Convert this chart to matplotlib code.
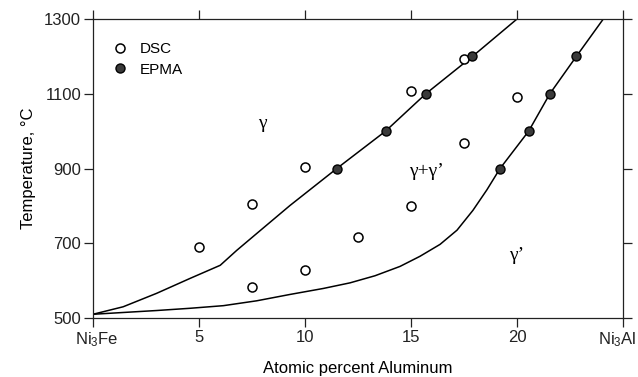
import numpy as np
import matplotlib.pyplot as plt
import matplotlib.transforms as mtransforms

plt.rcParams['font.family'] = ['Liberation Sans', 'DejaVu Sans']
plt.rcParams['mathtext.fontset'] = 'custom'
plt.rcParams['mathtext.rm'] = 'Liberation Sans'
plt.rcParams['mathtext.it'] = 'Liberation Sans:italic'

# DSC measurements (open circles)
dsc_al = [5, 7.5, 7.5, 10, 10, 12.5, 15, 15, 17.5, 17.5, 20]
dsc_t = [690, 805, 583, 903, 628, 716, 1108, 801, 1193, 967, 1092]

# EPMA measurements (filled circles), left and right boundaries
epma_al = [11.5, 13.8, 15.7, 17.9, 19.2, 20.55, 21.55, 22.8]
epma_t = [900, 1000, 1100, 1200, 900, 1000, 1100, 1200]

# phase boundaries
gamma_al = [0, 1.42, 3.0, 4.58, 6.0, 6.78, 7.72, 9.29, 11.5, 13.8, 15.7, 17.9, 20]
gamma_t = [510, 530, 566, 606, 641, 681, 726, 801, 900, 1000, 1100, 1200, 1300]

prime_al = [0, 3.0, 4.58, 6.15, 7.72, 9.29, 10.86, 12.12, 13.3, 14.48, 15.42, 16.37,
            17.17, 17.92, 18.58, 19.2, 20.55, 21.55, 22.8, 24.07]
prime_t = [510, 520, 526, 533, 546, 563, 579, 594, 613, 638, 665, 697,
           735, 788, 843, 900, 1000, 1100, 1200, 1300]

xticks = [0, 5, 10, 15, 20, 25]
xlabels = ['Ni$_3$Fe', '5', '10', '15', '20', 'Ni$_3$Al']
yticks = [500, 700, 900, 1100, 1300]

fig = plt.figure(figsize=(6.38, 3.77), dpi=100)
ax = fig.add_axes([0.1458, 0.1565, 0.8307, 0.7931])

ax.plot(gamma_al, gamma_t, color='black', lw=1.1)
ax.plot(prime_al, prime_t, color='black', lw=1.1)
ax.plot(dsc_al, dsc_t, 'o', ms=6.5, mfc='white', mec='black', mew=1.1, label='DSC')
ax.plot(epma_al, epma_t, 'o', ms=6.5, mfc='#3a3a3a', mec='black', mew=1.0, label='EPMA')

ax.text(7.97, 1020, 'γ', family='Liberation Serif', fontsize=14, ha='center', va='center')
ax.text(15.75, 893, 'γ+γ’', family='Liberation Serif', fontsize=14, ha='center', va='center')
ax.text(20, 668, 'γ’', family='Liberation Serif', fontsize=14, ha='center', va='center')

ax.set_xlim(0, 25)
ax.set_ylim(500, 1300)
ax.set_xticks(xticks)
ax.set_xticklabels(xlabels)
ax.set_yticks(yticks)
ax.tick_params(direction='out', length=6.5, width=0.9, labelsize=12, colors='#222222',
               top=True, right=True, pad=2)
for s in ax.spines.values():
    s.set_linewidth(0.9)
    s.set_color('#222222')

# end labels sit a little inside the axis ends
labs = ax.get_xticklabels()
labs[0].set_transform(labs[0].get_transform() + mtransforms.ScaledTranslation(4/100, 0, fig.dpi_scale_trans))
labs[-1].set_transform(labs[-1].get_transform() + mtransforms.ScaledTranslation(-6/100, 0, fig.dpi_scale_trans))

ax.set_xlabel('Atomic percent Aluminum', fontsize=12, labelpad=9)
ax.set_ylabel('Temperature, °C', fontsize=12, labelpad=6)

ax.legend(loc='upper left', bbox_to_anchor=(0.0185, 0.9438), frameon=False, fontsize=11,
          handletextpad=0.5, borderaxespad=0, handlelength=1.5, labelspacing=0.45)

fig.savefig('out.png', dpi=100)
